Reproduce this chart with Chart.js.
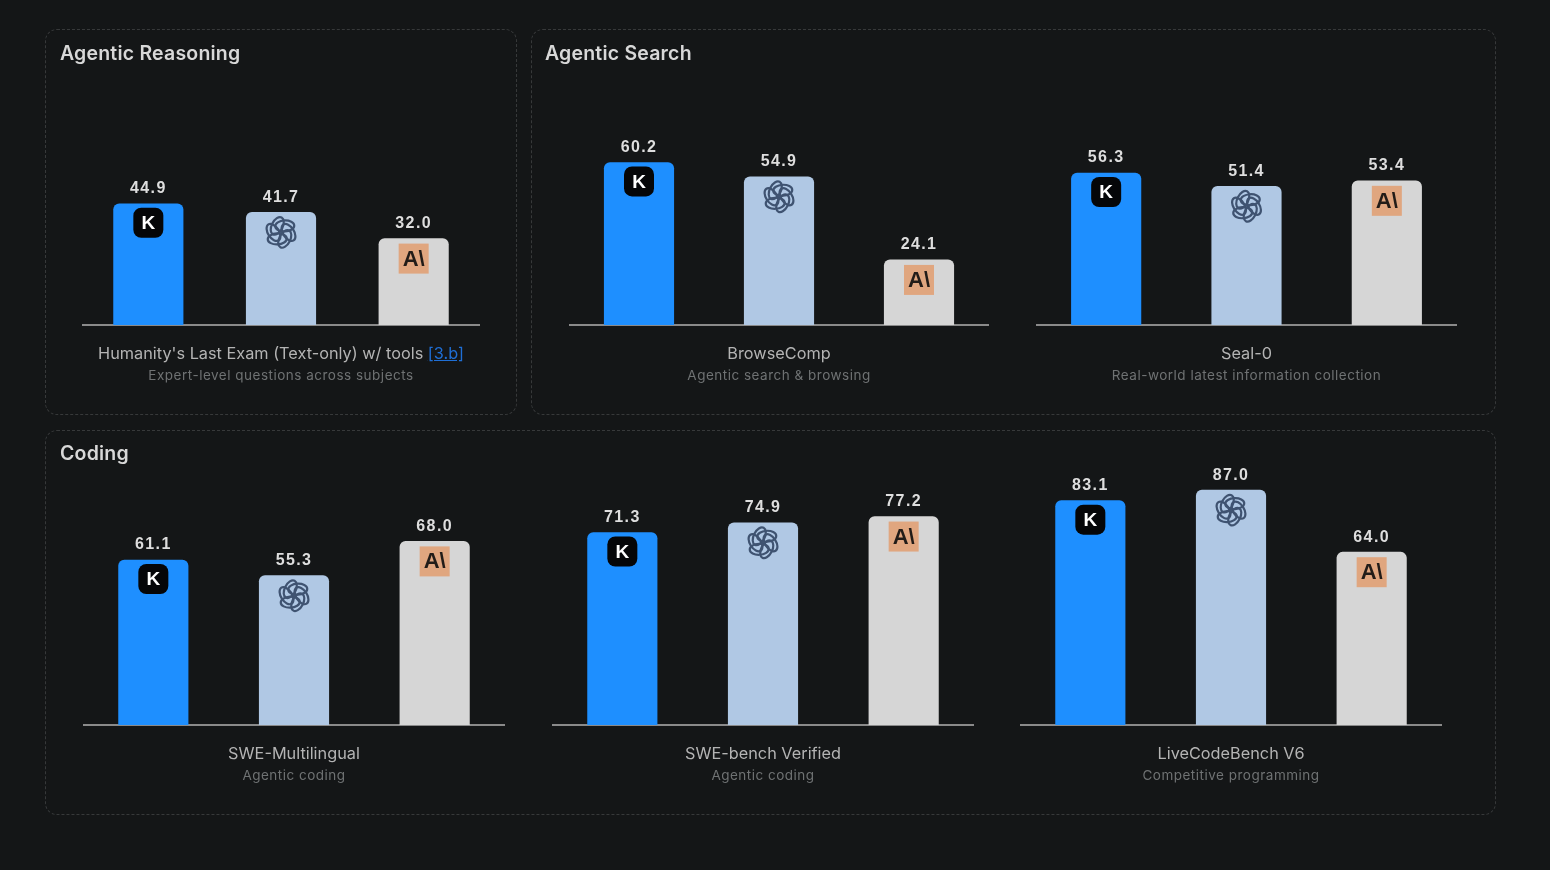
<!DOCTYPE html>
<html>
<head>
<meta charset="utf-8">
<script src="https://cdn.jsdelivr.net/npm/chart.js@4"></script>
<style>
  html, body { margin: 0; padding: 0; background: #141617; }
  body { width: 1550px; height: 870px; overflow: hidden; position: relative; font-family: "Inter", sans-serif; }
  #page { position: absolute; left: 0; top: 0; width: 1550px; height: 870px; filter: blur(0.6px); }
  .panel { position: absolute; box-sizing: border-box; border: 1px dashed #37393a; border-radius: 12px; }
  .title { position: absolute; color: #d8d8d8; font-size: 19.5px; line-height: 24px; font-weight: 600; letter-spacing: 0.2px; }
  canvas { position: absolute; }
  .cap { position: absolute; text-align: center; white-space: nowrap; transform: translateX(-50%); color: #b4b4b4; font-size: 16.3px; line-height: 20px; }
  .cap a { color: #1f6fd6; text-decoration: underline; }
  .sub { position: absolute; text-align: center; white-space: nowrap; transform: translateX(-50%); color: #6f7273; font-size: 13.5px; line-height: 18px; letter-spacing: 0.5px; }
</style>
</head>
<body>
<div id="page">
  <div class="panel" style="left:45px;top:29px;width:472px;height:386px"></div>
  <div class="panel" style="left:531px;top:29px;width:965px;height:386px"></div>
  <div class="panel" style="left:45px;top:430px;width:1451px;height:385px"></div>
  <div class="title" style="left:60px;top:41px">Agentic Reasoning</div>
  <div class="title" style="left:545px;top:41px">Agentic Search</div>
  <div class="title" style="left:60px;top:441px">Coding</div>
</div>
<script>
const models = ['Kimi', 'OpenAI', 'Anthropic'];
const barColors = ['#1e8fff', '#b0c8e4', '#d6d6d6'];

const benchNames = ["Humanity's Last Exam (Text-only) w/ tools", 'BrowseComp', 'Seal-0', 'SWE-Multilingual', 'SWE-bench Verified', 'LiveCodeBench V6'];
const benchNotes = ['Expert-level questions across subjects', 'Agentic search & browsing', 'Real-world latest information collection', 'Agentic coding', 'Agentic coding', 'Competitive programming'];

const hleValues = [44.9, 41.7, 32.0];
const browseValues = [60.2, 54.9, 24.1];
const sealValues = [56.3, 51.4, 53.4];
const multiValues = [61.1, 55.3, 68.0];
const sweValues = [71.3, 74.9, 77.2];
const liveValues = [83.1, 87.0, 64.0];
const allValues = [hleValues, browseValues, sealValues, multiValues, sweValues, liveValues];

// where each little chart sits on the page: left, axis width, top of plot
const slots = [
  [82, 398, 55], [569, 420, 55], [1036, 421, 55],
  [83, 422, 455], [552, 422, 455], [1020, 422, 455]
];

function drawKimi(ctx, x, y) {
  ctx.fillStyle = '#050608';
  ctx.beginPath();
  ctx.roundRect(x - 15, y - 16, 30, 30, 8);
  ctx.fill();
  ctx.fillStyle = '#ffffff';
  ctx.font = 'bold 19px "Liberation Sans"';
  ctx.textAlign = 'center';
  ctx.textBaseline = 'middle';
  ctx.fillText('K', x, y);
}

function drawOpenAI(ctx, x, y) {
  ctx.strokeStyle = '#3f5371';
  ctx.lineWidth = 2.2;
  for (let i = 0; i < 6; i++) {
    let a = i * Math.PI / 3;
    ctx.beginPath();
    ctx.ellipse(x + Math.cos(a) * 7.5, y + Math.sin(a) * 7.5, 9.5, 5.5, a + 1, 0, Math.PI * 2);
    ctx.stroke();
  }
}

function drawAnthropic(ctx, x, y) {
  ctx.fillStyle = '#e0a67f';
  ctx.fillRect(x - 15, y - 15, 30, 30);
  ctx.fillStyle = '#221c18';
  ctx.font = 'bold 22px "Liberation Sans"';
  ctx.textAlign = 'center';
  ctx.textBaseline = 'middle';
  ctx.fillText('A\\', x, y + 1);
}

const iconFns = [drawKimi, drawOpenAI, drawAnthropic];

const barDecor = {
  id: 'barDecor',
  afterDatasetsDraw(chart) {
    const ctx = chart.ctx;
    const values = chart.data.datasets[0].data;
    chart.getDatasetMeta(0).data.forEach((bar, i) => {
      ctx.save();
      ctx.fillStyle = '#dedede';
      ctx.font = 'bold 16px "Liberation Sans"';
      ctx.letterSpacing = '1.4px';
      ctx.textAlign = 'center';
      ctx.textBaseline = 'middle';
      ctx.fillText(values[i].toFixed(1), bar.x, bar.y - 15);
      ctx.restore();
      ctx.save();
      iconFns[i](ctx, bar.x, bar.y + 20);
      ctx.restore();
    });
  }
};

const page = document.getElementById('page');

allValues.forEach((values, n) => {
  const [left, width, top] = slots[n];
  const canvas = document.createElement('canvas');
  canvas.width = width;
  canvas.height = 273;
  canvas.style.left = left + 'px';
  canvas.style.top = top + 'px';
  page.appendChild(canvas);

  new Chart(canvas.getContext('2d'), {
    type: 'bar',
    data: {
      labels: models,
      datasets: [{
        data: values,
        backgroundColor: barColors,
        barThickness: 69.5,
        borderRadius: { topLeft: 6, topRight: 6, bottomLeft: 0, bottomRight: 0 },
        borderSkipped: false
      }]
    },
    options: {
      responsive: false,
      animation: false,
      layout: { padding: { left: 0, right: 0, top: 0, bottom: 3 } },
      plugins: { legend: { display: false }, tooltip: { enabled: false } },
      scales: {
        x: {
          grid: { display: false, drawTicks: false, tickLength: 0 },
          ticks: { display: false },
          border: { color: '#8a8a8a', width: 2 }
        },
        y: { display: false, min: 0, max: 100 }
      }
    },
    plugins: [barDecor]
  });

  const cap = document.createElement('div');
  cap.className = 'cap';
  cap.style.left = (left + width / 2) + 'px';
  cap.style.top = (top + 288) + 'px';
  cap.textContent = benchNames[n];
  if (n === 0) {
    cap.append(' ');
    const link = document.createElement('a');
    link.textContent = '[3.b]';
    cap.appendChild(link);
  }
  page.appendChild(cap);

  const sub = document.createElement('div');
  sub.className = 'sub';
  sub.style.left = (left + width / 2) + 'px';
  sub.style.top = (top + 311) + 'px';
  sub.textContent = benchNotes[n];
  page.appendChild(sub);
});
</script>
</body>
</html>
